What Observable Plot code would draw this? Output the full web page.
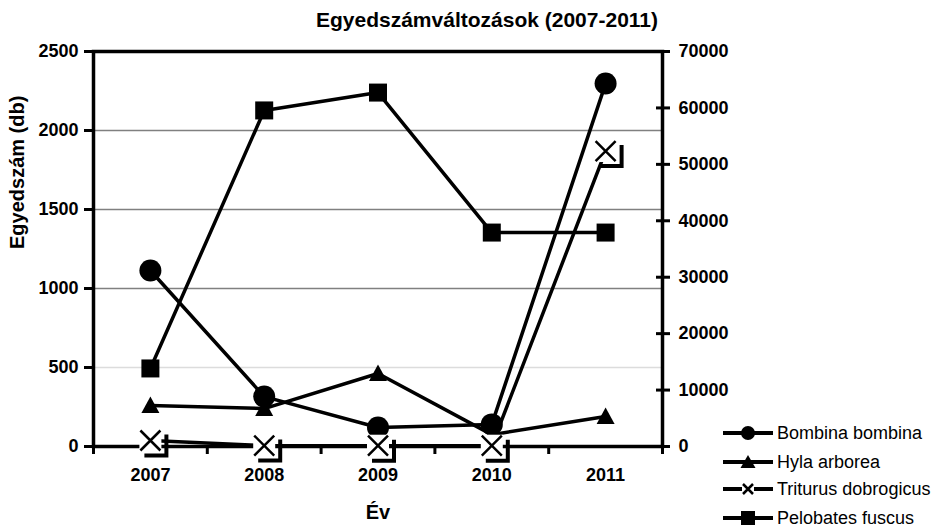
<!DOCTYPE html>
<html><head><meta charset="utf-8">
<script src="https://cdn.jsdelivr.net/npm/d3@7"></script>
<script src="https://cdn.jsdelivr.net/npm/@observablehq/plot@0.6"></script>
<style>
body{margin:0;background:#fff;font-family:"Liberation Sans",Arial,sans-serif;}
#wrap{position:relative;width:942px;height:529px;overflow:hidden;}
#title{height:40px;width:974px;text-align:center;font-weight:bold;font-size:21px;line-height:40px;}
#legend{position:absolute;left:700px;top:400px;}
</style></head>
<body><div id="wrap"><div id="title">Egyedszámváltozások (2007-2011)</div><div id="chart"></div><svg id="legend" width="242" height="129"></svg></div>
<script>
const years = [2007, 2008, 2009, 2010, 2011];
const bombina = [1114, 316, 120, 140, 2297];
const hyla = [260, 240, 462, 75, 190];
const triturus = [38, 6, 5, 5, 1870];
const pelobates = [494, 2127, 2240, 1354, 1354];
const seriesNames = ["Bombina bombina", "Hyla arborea", "Triturus dobrogicus", "Pelobates fuscus"];
const leftTicks = [0, 500, 1000, 1500, 2000, 2500];
const rightTicks = [0, 10000, 20000, 30000, 40000, 50000, 60000, 70000];
const gridDark = [1000, 1500, 2000];
const gridLight = [500];
const yLabel = "Egyedszám (db)";
const xLabel = "Év";
const rightFactor = 70000 / 2500;

const seriesValues = [bombina, hyla, triturus, pelobates];
const rows = seriesNames.flatMap((name, i) => years.map((y, j) => ({name, year: y, value: seriesValues[i][j]})));
const of = name => rows.filter(d => d.name === name);
const bounds = [years[0] - 0.5, ...years.map(y => y + 0.5)];

const squareSym = {draw(c){ c.rect(-9, -9, 18, 18); }};
const triSym = {draw(c){ c.moveTo(0, -9); c.lineTo(9, 7.5); c.lineTo(-9, 7.5); c.closePath(); }};
const boxSym = {draw(c){ c.rect(-11, -11, 22, 22); }};
const crossSym = {draw(c){ c.moveTo(-10, -10); c.lineTo(10, 10); c.moveTo(10, -10); c.lineTo(-10, 10); }};
const bracketSym = {draw(c){ c.moveTo(-6, 15); c.lineTo(16, 15); c.lineTo(16, -6); }};

const font = {fontSize: 18, fontWeight: "bold"};

const chart = Plot.plot({
  width: 942,
  height: 489,
  marginLeft: 93,
  marginRight: 280,
  marginTop: 11,
  marginBottom: 83,
  style: {fontFamily: '"Liberation Sans", Arial, sans-serif', color: "black", background: "white"},
  x: {type: "linear", domain: [years[0] - 0.5, years[years.length - 1] + 0.5], axis: null},
  y: {domain: [0, 2500], axis: null},
  marks: [
    Plot.ruleY(gridDark, {stroke: "#808080", strokeWidth: 1.3}),
    Plot.ruleY(gridLight, {stroke: "#dcdcdc", strokeWidth: 1.5}),
    Plot.frame({stroke: "black", strokeWidth: 3.5}),
    Plot.axisY(leftTicks, {anchor: "left", tickSize: 9, tickPadding: 6, strokeWidth: 3, ...font,
      tickFormat: d => String(d), label: null}),
    Plot.axisY(rightTicks.map(v => v / rightFactor), {anchor: "right", tickSize: 14, dx: -7, strokeWidth: 3,
      tickFormat: () => "", label: null}),
    Plot.axisY(rightTicks.map(v => v / rightFactor), {anchor: "right", tickSize: 0, tickPadding: 16, ...font,
      tickFormat: d => String(Math.round(d * rightFactor)), label: null}),
    Plot.axisX(bounds, {anchor: "bottom", tickSize: 8, strokeWidth: 3, tickFormat: () => "", label: null}),
    Plot.axisX(years, {anchor: "bottom", tickSize: 0, tickPadding: 22, ...font, tickFormat: d => String(d), label: null}),
    Plot.text([yLabel], {text: d => d, frameAnchor: "left", dx: -76, rotate: -90, fontSize: 20, fontWeight: "bold"}),
    Plot.text([xLabel], {text: d => d, frameAnchor: "bottom", dy: 72, fontSize: 20, fontWeight: "bold"}),
    ...seriesNames.map(n => Plot.line(of(n), {x: "year", y: "value", stroke: "black", strokeWidth: 3.5})),
    Plot.dot(of(seriesNames[0]), {x: "year", y: "value", r: 11, fill: "black", stroke: "none"}),
    Plot.dot(of(seriesNames[1]), {x: "year", y: "value", symbol: triSym, fill: "black", stroke: "none"}),
    Plot.dot(of(seriesNames[3]), {x: "year", y: "value", symbol: squareSym, fill: "black", stroke: "none"}),
    Plot.dot(of(seriesNames[2]), {x: "year", y: "value", symbol: boxSym, fill: "white", stroke: "none"}),
    Plot.dot(of(seriesNames[2]), {x: "year", y: "value", symbol: crossSym, fill: "none", stroke: "black", strokeWidth: 2.5}),
    Plot.dot(of(seriesNames[2]), {x: "year", y: "value", symbol: bracketSym, fill: "none", stroke: "black", strokeWidth: 4})
  ]
});
document.getElementById("chart").appendChild(chart);

// legend
const lg = d3.select("#legend");
const rowY = [33, 62, 89, 118];
const legendSym = [
  g => g.append("circle").attr("cx", 48).attr("r", 7).attr("fill", "black"),
  g => g.append("path").attr("d", "M48,-7L55.5,6L40.5,6Z").attr("fill", "black"),
  g => { g.append("rect").attr("x", 42).attr("y", -6).attr("width", 12).attr("height", 12).attr("fill", "white");
         g.append("path").attr("d", "M43,-5L53,5M53,-5L43,5").attr("stroke", "black").attr("stroke-width", 2.5); },
  g => g.append("rect").attr("x", 41).attr("y", -7).attr("width", 14).attr("height", 14).attr("fill", "black")
];
seriesNames.forEach((name, i) => {
  const g = lg.append("g").attr("transform", `translate(0,${rowY[i]})`);
  g.append("line").attr("x1", 23).attr("x2", 73).attr("stroke", "black").attr("stroke-width", 4);
  legendSym[i](g);
  g.append("text").attr("x", 77).attr("dy", "0.35em").attr("font-size", 18)
    .attr("font-family", '"Liberation Sans", Arial, sans-serif').text(name);
});
</script>
</body></html>
